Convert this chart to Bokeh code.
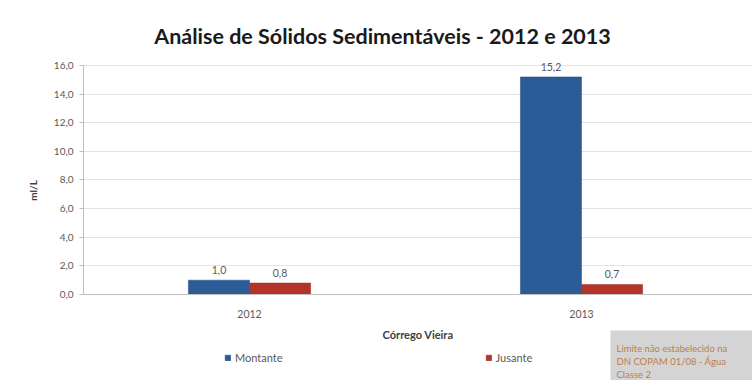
from bokeh.plotting import figure
from bokeh.models import ColumnDataSource, Range1d, FixedTicker, Label, LabelSet, Legend, LegendItem
from bokeh.core.properties import value
from bokeh.embed import file_html
from bokeh.resources import INLINE

categories = ["2012", "2013"]
montante = [1.0, 15.2]
jusante = [0.8, 0.7]
y_ticks = [0, 2, 4, 6, 8, 10, 12, 14, 16]
series_names = ["Montante", "Jusante"]

FONT = "Lato"
BAR_W = 0.184

def fmt(v):
    return f"{v:.1f}".replace(".", ",")

idx = [i + 0.5 for i in range(len(categories))]
src_m = ColumnDataSource(dict(x=[c - BAR_W / 2 for c in idx], top=montante, lab=[fmt(v) for v in montante]))
src_j = ColumnDataSource(dict(x=[c + BAR_W / 2 for c in idx], top=jusante, lab=[fmt(v) for v in jusante]))

p = figure(width=752, height=380, output_backend="svg", toolbar_location=None,
           x_range=Range1d(0, 2.015), y_range=Range1d(-6.009, 20.541),
           min_border_left=83, min_border_right=0, min_border_top=0, min_border_bottom=0)
p.background_fill_color = "white"
p.border_fill_color = "white"
p.outline_line_color = None

rm = p.vbar(x="x", top="top", width=BAR_W, source=src_m, fill_color="#2c5c98", line_color="#24497a", line_width=0.5)
rj = p.vbar(x="x", top="top", width=BAR_W, source=src_j, fill_color="#b5342a", line_color="#9a2c24", line_width=0.5)

for s in (src_m, src_j):
    p.add_layout(LabelSet(x="x", y="top", text="lab", source=s, y_offset=6, text_align="center",
                          text_baseline="bottom", text_font=value(FONT), text_font_size="10.5px",
                          text_color="#595959"))

# axes
p.xaxis.fixed_location = 0
p.xaxis.ticker = FixedTicker(ticks=idx)
p.xaxis.major_label_overrides = {c: categories[i] for i, c in enumerate(idx)}
p.xaxis.major_tick_line_color = None
p.xaxis.minor_tick_line_color = None
p.xaxis.axis_line_color = "#bfbfbf"
p.xaxis.major_label_text_font = FONT
p.xaxis.major_label_text_font_size = "10.5px"
p.xaxis.major_label_text_color = "#595959"
p.xaxis.major_label_standoff = 10
p.xaxis.axis_label = "Córrego Vieira"
p.xaxis.axis_label_text_font = FONT
p.xaxis.axis_label_text_font_style = "bold"
p.xaxis.axis_label_text_font_size = "11px"
p.xaxis.axis_label_text_color = "#404040"
p.xaxis.axis_label_standoff = 6

p.yaxis.bounds = (0, 16)
p.yaxis.ticker = FixedTicker(ticks=y_ticks)
p.yaxis.major_label_overrides = {t: fmt(t) for t in y_ticks}
p.yaxis.minor_tick_line_color = None
p.yaxis.major_tick_in = 0
p.yaxis.major_tick_out = 4
p.yaxis.major_tick_line_color = "#bfbfbf"
p.yaxis.axis_line_color = "#bfbfbf"
p.yaxis.major_label_text_font = FONT
p.yaxis.major_label_text_font_size = "10px"
p.yaxis.major_label_text_color = "#595959"
p.yaxis.major_label_standoff = 6
p.yaxis.axis_label = "ml/L"
p.yaxis.axis_label_text_font = FONT
p.yaxis.axis_label_text_font_style = "bold"
p.yaxis.axis_label_text_font_size = "10px"
p.yaxis.axis_label_text_color = "#404040"
p.yaxis.axis_label_standoff = 12

p.xgrid.grid_line_color = None
p.ygrid.grid_line_color = "#e3e3e3"

# title
p.add_layout(Label(x=299, y=345, x_units="screen", y_units="screen",
                   text="Análise de Sólidos Sedimentáveis - 2012 e 2013",
                   text_align="center", text_baseline="middle", text_font=FONT,
                   text_font_style="bold", text_font_size="21.5px", text_color="#1a1a1a"))

# legend
legend = Legend(items=[LegendItem(label=series_names[0], renderers=[rm]),
                       LegendItem(label=series_names[1], renderers=[rj])],
                orientation="horizontal", location=(141, 16), spacing=202,
                padding=0, margin=0, border_line_color=None, background_fill_alpha=0,
                glyph_width=7, glyph_height=7, label_standoff=4,
                label_text_font=FONT, label_text_font_size="11px", label_text_color="#595959")
p.add_layout(legend)

# note box
p.add_layout(Label(x=527, y=50, x_units="screen", y_units="screen",
                   text="Limite não estabelecido na\nDN COPAM 01/08 - Água\nClasse 2",
                   text_align="left", text_baseline="top", text_font=FONT,
                   text_font_size="9.5px", text_color="#b9804f",
                   background_fill_color="#d4d4d4", padding=(6, 40, 12, 12)))

open("out.html", "w").write(file_html(p, INLINE))
